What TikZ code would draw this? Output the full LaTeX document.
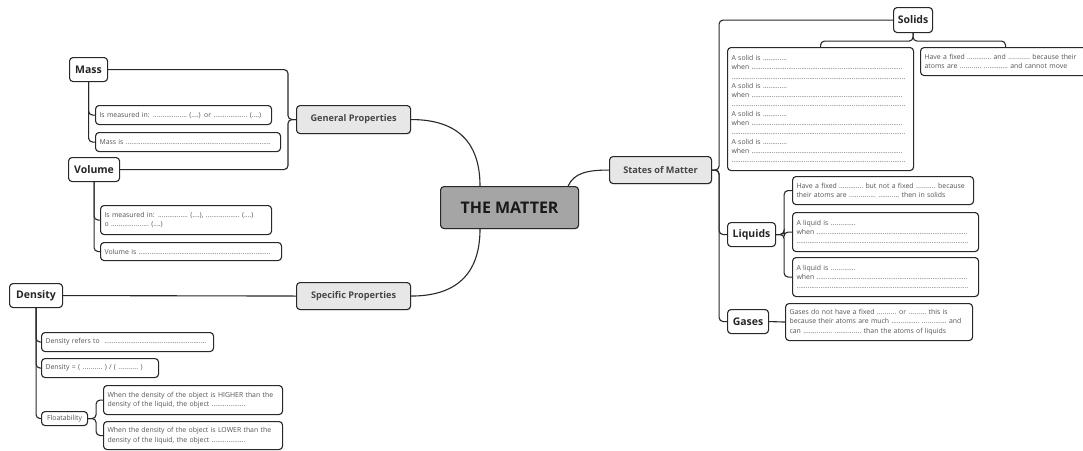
\documentclass[tikz,border=0pt]{standalone}
\usepackage{fontspec}
\setmainfont{Open Sans}
\usepackage{tikz}
\usetikzlibrary{calc,shadows}
\definecolor{linecolor}{RGB}{40,40,40}
\definecolor{centralfill}{RGB}{165,165,165}
\definecolor{topicfill}{RGB}{231,231,231}
\definecolor{topictext}{RGB}{70,70,70}
\definecolor{leaftext}{RGB}{85,85,85}
% a run of dots of a given width (pt)
\newcommand{\fillgap}[1]{\leavevmode\hbox to #1pt{\xleaders\hbox{.}\hfill}}

\begin{document}
\begin{tikzpicture}[
    x=1pt, y=-1pt,
    softshadow/.style={drop shadow={opacity=0.15, shadow xshift=0.6pt,
       shadow yshift=-0.9pt, fill=black}},
    box/.style={draw=linecolor, line width=1.1pt, rounded corners=3.5pt,
       anchor=north west, inner sep=0pt},
    central/.style={box, fill=centralfill, font=\fontsize{16}{18}\selectfont\bfseries,
       text=black!90, softshadow},
    topic/.style={box, fill=topicfill, font=\fontsize{9.2}{11}\selectfont\bfseries,
       text=topictext, softshadow},
    sub/.style={box, fill=white, font=\fontsize{10.5}{12}\selectfont\bfseries,
       text=black!85},
    leaf/.style={box, fill=white, font=\fontsize{6.9}{9.3}\selectfont,
       text=leaftext, align=left, inner xsep=4pt},
    branch/.style={draw=linecolor, line width=1.1pt, rounded corners=4pt},
    link/.style={draw=linecolor, line width=1.1pt}
  ]
    \useasboundingbox (0,0) rectangle (1083,450);
    \clip (0,0) rectangle (1083,450);

    % Centre and main topics
    \node[central, minimum width=138, minimum height=42] (tm) at (440,186) {THE MATTER};
    \node[topic, minimum width=114, minimum height=28] (gp) at (296,105) {General Properties};
    \node[topic, minimum width=114, minimum height=27] (sp) at (296,282) {Specific Properties};
    \node[topic, minimum width=102, minimum height=27] (som) at (609,156) {States of Matter};

    % Sub topics
    \node[sub, minimum width=38, minimum height=24] (mass) at (69,57) {Mass};
    \node[sub, minimum width=51, minimum height=24] (vol) at (68,157) {Volume};
    \node[sub, minimum width=53, minimum height=24] (dens) at (9,283) {Density};
    \node[sub, minimum width=39, minimum height=25] (solids) at (893,7) {Solids};
    \node[sub, minimum width=48, minimum height=24] (liquids) at (727,222) {Liquids};
    \node[sub, minimum width=41, minimum height=24] (gases) at (727,309) {Gases};

    % Mass and volume
    \node[leaf, text width=168, minimum height=19] (m1) at (95,105)
      {Is measured in: \fillgap{34} (....) or \fillgap{34} (....)};
    \node[leaf, text width=177, minimum height=19] (m2) at (95,132)
      {Mass is \fillgap{145}};
    \node[leaf, text width=163, minimum height=29] (v1) at (100,205)
      {Is measured in: \fillgap{30} (....), \fillgap{34} (....)\\ o \fillgap{38} (....)};
    \node[leaf, text width=173, minimum height=18] (v2) at (100,242)
      {Volume is \fillgap{132}};

    % Density
    \node[leaf, text width=164, minimum height=19] (d1) at (41,332)
      {Density refers to \ \fillgap{102}};
    \node[leaf, text width=109, minimum height=19] (d2) at (41,358)
      {Density = ( \fillgap{20} ) / ( \fillgap{20} )};
    \node[leaf, inner xsep=3pt, minimum width=46, minimum height=14] (flo) at (41,411)
      {Floatability};
    \node[leaf, text width=171, minimum height=29] (hi) at (103,385)
      {When the density of the object is HIGHER than the\\density of the liquid, the object \fillgap{34}};
    \node[leaf, text width=171, minimum height=28] (lo) at (103,421)
      {When the density of the object is LOWER than the\\density of the liquid, the object \fillgap{34}};

    % Solids
    \node[leaf, text width=178, minimum height=123] (s1) at (727,47)
      {A solid is \fillgap{24}\\when \fillgap{151}\\\fillgap{174}\\
       A solid is \fillgap{24}\\when \fillgap{151}\\\fillgap{174}\\
       A solid is \fillgap{24}\\when \fillgap{151}\\\fillgap{174}\\
       A solid is \fillgap{24}\\when \fillgap{151}\\\fillgap{174}};
    \node[leaf, text width=162, minimum height=28] (s2) at (920,47)
      {Have a fixed \fillgap{24} and \fillgap{22} because their\\atoms are \fillgap{22} \fillgap{24} and cannot move};

    % Liquids and gases
    \node[leaf, text width=173, minimum height=28] (l1) at (792,176)
      {Have a fixed \fillgap{24} but not a fixed \fillgap{20} because\\their atoms are \fillgap{27} \fillgap{21} then in solids};
    \node[leaf, text width=178, minimum height=39] (l2) at (792,212)
      {A liquid is \fillgap{25}\\when \fillgap{151}\\\fillgap{172}};
    \node[leaf, text width=178, minimum height=39] (l3) at (792,257)
      {A liquid is \fillgap{25}\\when \fillgap{151}\\\fillgap{172}};
    \node[leaf, text width=179, minimum height=37] (g1) at (785,303)
      {Gases do not have a fixed \fillgap{20} or \fillgap{18} this is\\because their atoms are much \fillgap{28} \fillgap{25} and\\can \fillgap{29} \fillgap{27} than the atoms of liquids};

    % Curved links from the centre
    \draw[link] ($(tm.north west)+(40,0)$) .. controls +(0,-45) and +(45,0) .. (gp.east);
    \draw[link] ($(tm.south west)+(40,0)$) .. controls +(0,45) and +(45,0) .. (sp.east);
    \draw[link] ($(tm.north east)+(-11,0)$) .. controls +(6,-13) and +(-22,0) .. (som.west);

    % Left branches
    \draw[branch] (gp.west) -- ++(-8,0) |- (mass.east);
    \draw[branch] (gp.west) -- ++(-8,0) |- (vol.east);
    \draw[branch] (sp.west) -- (dens.east);
    \foreach \t in {m1,m2} \draw[branch] (mass.south) |- (\t.west);
    \foreach \t in {v1,v2} \draw[branch] (vol.south) |- (\t.west);
    \foreach \t in {d1,d2,flo} \draw[branch] (dens.south) |- (\t.west);
    \foreach \t in {hi,lo} \draw[branch] (flo.east) -- ++(8,0) |- (\t.west);

    % Right branches
    \foreach \t in {solids,liquids,gases} \draw[branch] (som.east) -- ++(7,0) |- (\t.west);
    \foreach \t in {s1,s2} \draw[branch] (solids.south) -- ++(0,8) -| (\t.north);
    \foreach \t in {l1,l2,l3} \draw[branch] (liquids.east) -- ++(8,0) |- (\t.west);
    \draw[branch] (gases.east) -- (g1.west);
\end{tikzpicture}
\end{document}
